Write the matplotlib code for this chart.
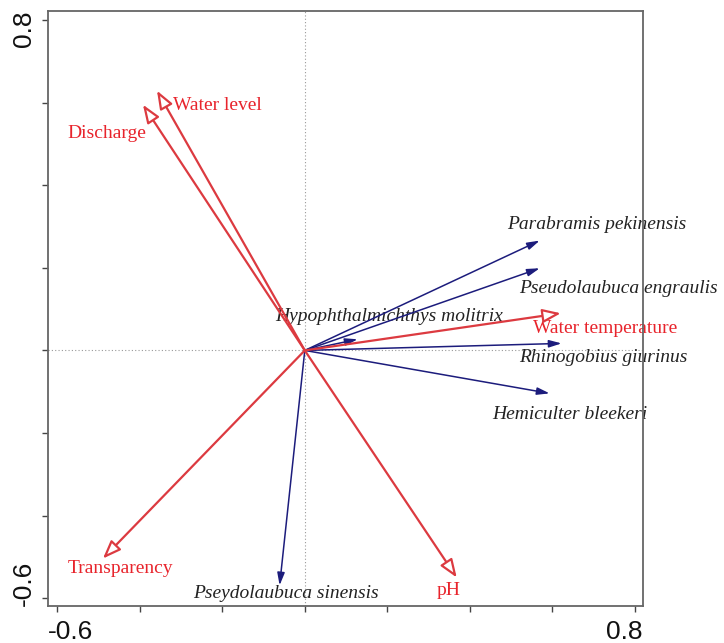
import matplotlib
matplotlib.use("Agg")
import matplotlib.pyplot as plt

# Variáveis ambientais (setas vermelhas)
env_names = ["Discharge", "Water level", "Water temperature", "Transparency", "pH"]
env_x = [-0.392, -0.358, 0.620, -0.489, 0.368]
env_y = [0.595, 0.629, 0.090, -0.504, -0.550]

# Espécies (setas azuis)
spp_names = ["Parabramis pekinensis", "Pseudolaubuca engraulis",
             "Hypophthalmichthys molitrix", "Rhinogobius giurinus",
             "Hemiculter bleekeri", "Pseydolaubuca sinensis"]
spp_x = [0.569, 0.569, 0.128, 0.622, 0.593, -0.061]
spp_y = [0.266, 0.199, 0.027, 0.017, -0.104, -0.569]

# posição dos rótulos (canto esquerdo, centro vertical)
env_lab = {"Discharge": (-0.574, 0.525), "Water level": (-0.320, 0.593),
           "Water temperature": (0.552, 0.053), "Transparency": (-0.574, -0.528),
           "pH": (0.320, -0.581)}
spp_lab = {"Parabramis pekinensis": (0.490, 0.305),
           "Pseudolaubuca engraulis": (0.520, 0.150),
           "Hypophthalmichthys molitrix": (-0.072, 0.083),
           "Rhinogobius giurinus": (0.520, -0.017),
           "Hemiculter bleekeri": (0.453, -0.155),
           "Pseydolaubuca sinensis": (-0.271, -0.588)}

ticks = [-0.6, -0.4, -0.2, 0.0, 0.2, 0.4, 0.6, 0.8]

vermelho = "#dc3a40"
azul = "#1c1c7c"

fig = plt.figure(figsize=(7.24, 6.43), dpi=100)
ax = fig.add_axes([0.0663, 0.0575, 0.8217, 0.9254])
ax.set_xlim(-0.622, 0.819)
ax.set_ylim(-0.619, 0.822)

ax.axhline(0, color="#999999", lw=0.8, ls=(0, (1, 2)), zorder=1)
ax.axvline(0, color="#999999", lw=0.8, ls=(0, (1, 2)), zorder=1)

for nome, x, y in zip(spp_names, spp_x, spp_y):
    ax.annotate("", xy=(x, y), xytext=(0, 0),
                arrowprops=dict(arrowstyle="-|>,head_length=0.75,head_width=0.22",
                                fc=azul, ec=azul, lw=1.1, shrinkA=0, shrinkB=0),
                zorder=3)
    lx, ly = spp_lab[nome]
    ax.text(lx, ly, nome, color="#222222", fontsize=14, style="italic",
            family="Liberation Serif", ha="left", va="center", clip_on=False, zorder=2)

for nome, x, y in zip(env_names, env_x, env_y):
    ax.annotate("", xy=(x, y), xytext=(0, 0),
                arrowprops=dict(arrowstyle="-|>,head_length=1.1,head_width=0.42",
                                fc="white", ec=vermelho, lw=1.6, shrinkA=0, shrinkB=0),
                zorder=4)
    lx, ly = env_lab[nome]
    ax.text(lx, ly, nome, color="#e8242c", fontsize=14,
            family="Liberation Serif", ha="left", va="center", clip_on=False, zorder=2)

# ticks sem rótulo; só os extremos levam número, alinhados às bordas do eixo
ax.set_xticks(ticks)
ax.set_yticks(ticks)
ax.set_xticklabels([])
ax.set_yticklabels([])
ax.tick_params(direction="out", length=4, width=1, color="#444444")
fonte = dict(family="Liberation Sans", fontsize=19, color="#111111")
ax.text(0.0, -0.056, "-0.6", transform=ax.transAxes, ha="left", va="baseline", **fonte)
ax.text(1.0, -0.056, "0.8", transform=ax.transAxes, ha="right", va="baseline", **fonte)
ax.text(-0.041, 1.0, "0.8", transform=ax.transAxes, ha="center", va="top",
        rotation=90, **fonte)
ax.text(-0.041, 0.0, "-0.6", transform=ax.transAxes, ha="center", va="bottom",
        rotation=90, **fonte)
for s in ax.spines.values():
    s.set_color("#666666")
    s.set_linewidth(1.3)
    s.set_zorder(5)

fig.savefig("out.png", dpi=100)
